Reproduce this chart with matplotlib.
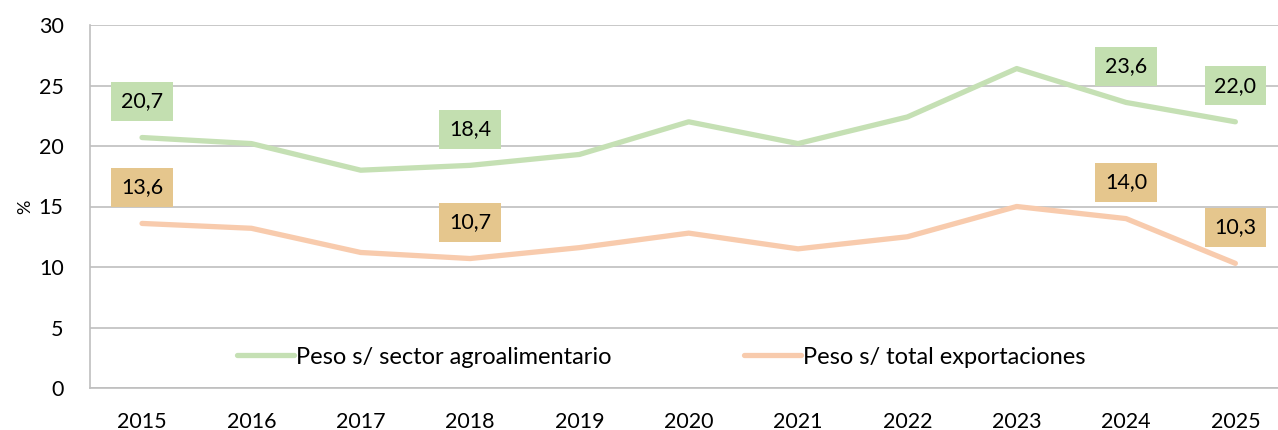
import numpy as np
from matplotlib import pyplot as plt

plt.rcParams['font.family'] = ['Lato', 'DejaVu Sans']

years = ['2015', '2016', '2017', '2018', '2019', '2020', '2021', '2022', '2023', '2024', '2025']
agro = [20.7, 20.2, 18.0, 18.4, 19.3, 22.0, 20.2, 22.4, 26.4, 23.6, 22.0]
total = [13.6, 13.2, 11.2, 10.7, 11.6, 12.8, 11.5, 12.5, 15.0, 14.0, 10.3]
labelled = [0, 3, 9, 10]

fig = plt.figure(figsize=(12.78, 4.30), dpi=100)
ax = fig.add_axes([90/1278, 42/430, 1188/1278, 363/430])

x = np.arange(len(years))
ax.plot(x, agro, color='#c5e0b4', lw=3.8, solid_capstyle='round', label='Peso s/ sector agroalimentario')
ax.plot(x, total, color='#f8cbad', lw=3.8, solid_capstyle='round', label='Peso s/ total exportaciones')

for i in labelled:
    ax.annotate(f'{agro[i]:.1f}'.replace('.', ','), (x[i], agro[i]), xytext=(0, 26), textcoords='offset points',
                ha='center', va='center', fontsize=15.5,
                bbox=dict(boxstyle='square,pad=0.45', fc='#c3dfb0', ec='none'))
    ax.annotate(f'{total[i]:.1f}'.replace('.', ','), (x[i], total[i]), xytext=(0, 26), textcoords='offset points',
                ha='center', va='center', fontsize=15.5,
                bbox=dict(boxstyle='square,pad=0.45', fc='#e5c68d', ec='none'))

ax.set_ylim(0, 30)
ax.set_yticks(range(0, 31, 5))
ax.set_xlim(-0.476, 10.39)
ax.set_xticks(x)
ax.set_xticklabels(years)
ax.tick_params(axis='both', length=0, labelsize=15.5)
ax.tick_params(axis='y', pad=19)
ax.tick_params(axis='x', pad=17)
ax.set_ylabel('%', fontsize=13, labelpad=4)
ax.grid(axis='y', color='#bfbfbf', lw=1.2)
ax.set_axisbelow(True)
for s in ['top', 'right']:
    ax.spines[s].set_visible(False)
for s in ['left', 'bottom']:
    ax.spines[s].set_color('#bfbfbf')
    ax.spines[s].set_linewidth(1.2)

ax.legend(loc='center', bbox_to_anchor=(0.481, 0.085), ncol=2, frameon=False, fontsize=17,
          handlelength=2.4, handletextpad=0.1, columnspacing=5.6)

plt.savefig('out.png')
